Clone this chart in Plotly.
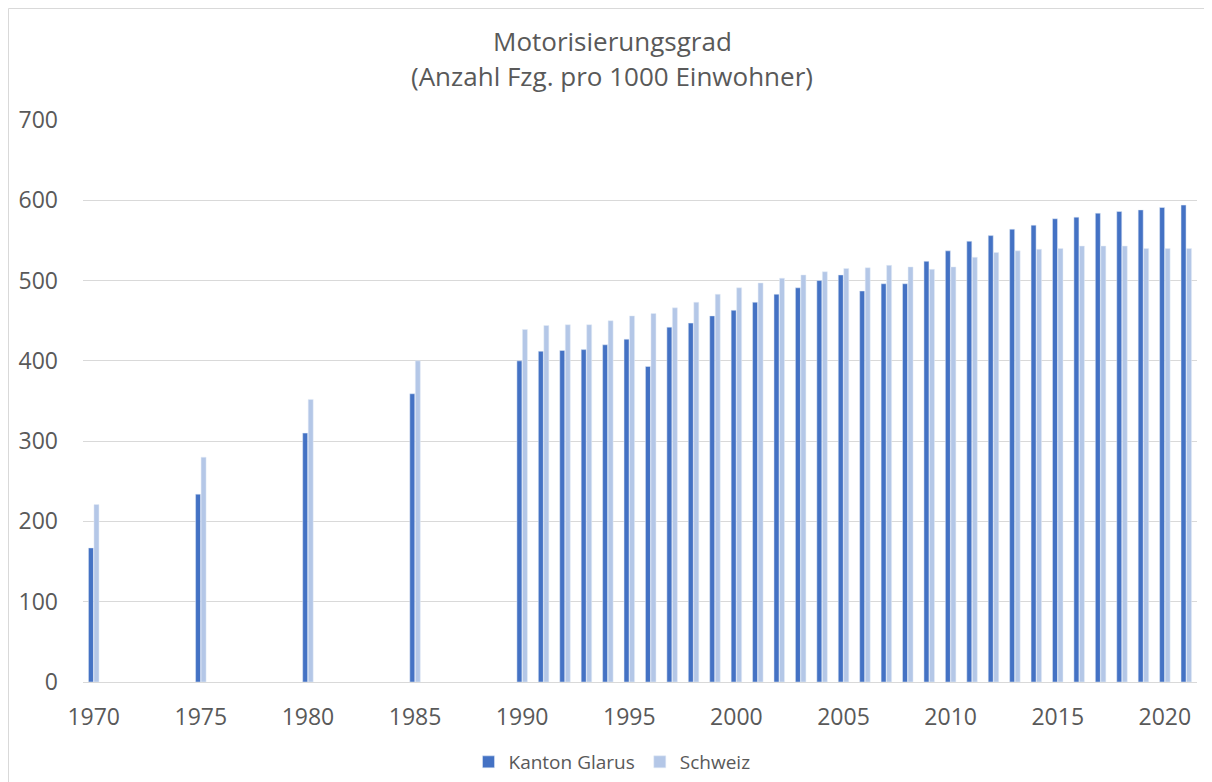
import plotly.graph_objects as go

years = [1970, 1975, 1980, 1985,
         1990, 1991, 1992, 1993, 1994, 1995, 1996, 1997, 1998, 1999,
         2000, 2001, 2002, 2003, 2004, 2005, 2006, 2007, 2008, 2009,
         2010, 2011, 2012, 2013, 2014, 2015, 2016, 2017, 2018, 2019,
         2020, 2021]
glarus = [167, 234, 310, 359,
          400, 412, 413, 414, 420, 427, 393, 442, 447, 456,
          463, 473, 483, 491, 500, 507, 487, 496, 496, 524,
          537, 549, 556, 564, 569, 577, 579, 584, 586, 588,
          591, 594]
schweiz = [221, 280, 352, 400,
           439, 444, 445, 445, 450, 456, 459, 466, 473, 483,
           491, 497, 503, 507, 511, 515, 516, 519, 517, 514,
           517, 529, 535, 537, 539, 540, 543, 543, 543, 540,
           540, 540]
tick_years = [1970, 1975, 1980, 1985, 1990, 1995, 2000, 2005, 2010, 2015, 2020]
y_ticks = [0, 100, 200, 300, 400, 500, 600, 700]
title_lines = ["Motorisierungsgrad", "(Anzahl Fzg. pro 1000 Einwohner)"]

FONT = "Open Sans"
GREY = "#595959"

fig = go.Figure()
fig.add_trace(go.Bar(x=years, y=glarus, name="Kanton Glarus", marker_color="#4472C4"))
fig.add_trace(go.Bar(x=years, y=schweiz, name="Schweiz", marker_color="#B4C7E7"))

# page has an 8px body margin; figure coords = reference coords - 8
OFF = 8
W, H = 1212 - OFF, 782 - OFF
L, T = 83 - OFF, 120 - OFF
PLOT_R, PLOT_B = 1197 - OFF, 682 - OFF
R, B = W - PLOT_R, H - PLOT_B
ph = PLOT_B - T
pw = PLOT_R - L

def py(p):
    return (PLOT_B - (p - OFF)) / ph

def px(p):
    return ((p - OFF) - L) / pw

fig.update_layout(
    width=W, height=H,
    margin=dict(l=L, r=R, t=T, b=B, autoexpand=False),
    paper_bgcolor="white", plot_bgcolor="white",
    barmode="group", bargap=0.486, bargroupgap=0.09,
    font=dict(family=FONT, color=GREY, size=23),
    showlegend=True,
    legend=dict(orientation="h", x=px(612), xanchor="center", y=py(762), yanchor="middle",
                font=dict(size=19, color=GREY), itemwidth=30, traceorder="normal"),
    xaxis=dict(range=[1969.5, 2021.5], tickmode="array", tickvals=tick_years,
               ticktext=[str(t) for t in tick_years], showgrid=False, showline=True,
               linecolor="#D9D9D9", linewidth=1, ticks="", ticklabelstandoff=14,
               zeroline=False, tickfont=dict(size=23, color=GREY)),
    yaxis=dict(range=[0, 700], tickmode="array", tickvals=y_ticks, showgrid=True,
               gridcolor="#D9D9D9", gridwidth=1, zeroline=False, showline=False,
               ticks="", ticklabelstandoff=24, tickfont=dict(size=23, color=GREY)),
    annotations=[
        dict(text=title_lines[0], xref="paper", yref="paper", x=px(612), y=py(41),
             xanchor="center", yanchor="middle", showarrow=False,
             font=dict(size=26, color=GREY, family=FONT)),
        dict(text=title_lines[1], xref="paper", yref="paper", x=px(612), y=py(76),
             xanchor="center", yanchor="middle", showarrow=False,
             font=dict(size=26, color=GREY, family=FONT)),
    ],
    shapes=[
        dict(type="rect", xref="paper", yref="paper", x0=px(8.5), y0=py(800), x1=px(1230), y1=py(8.5),
             line=dict(color="#D9D9D9", width=1), fillcolor="rgba(0,0,0,0)", layer="below"),
    ],
)

fig.write_html("out.html")
